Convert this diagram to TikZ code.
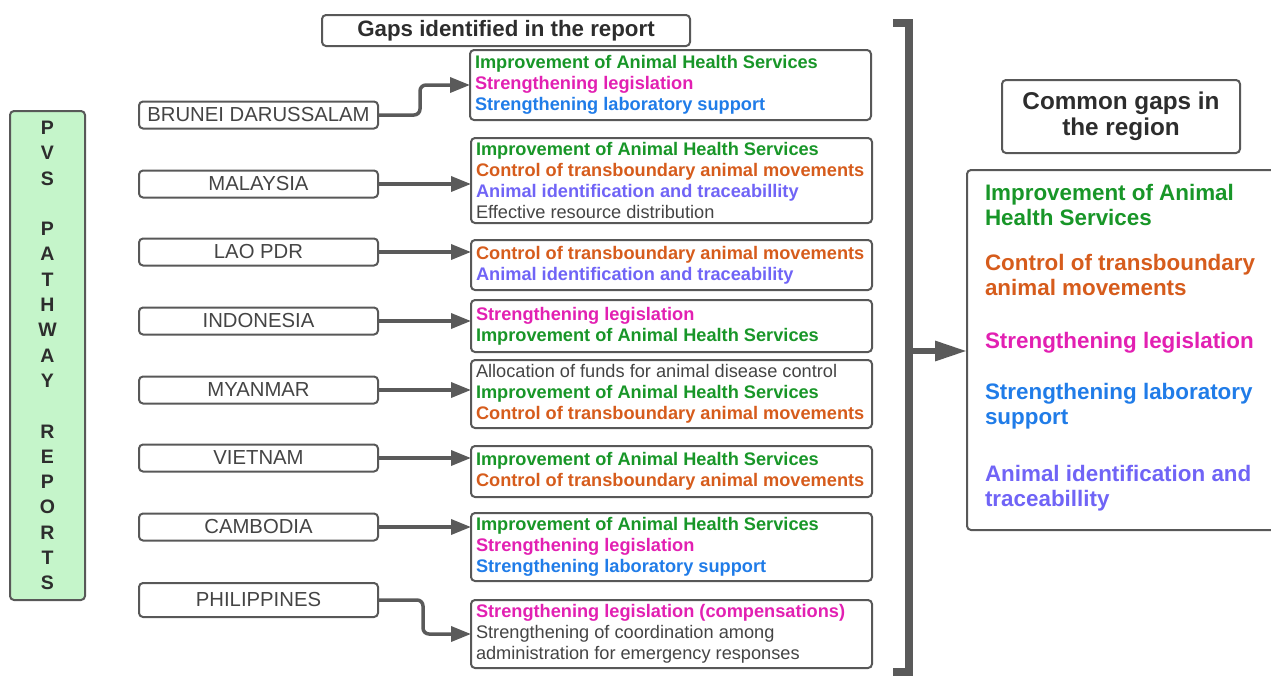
\documentclass[tikz,border=0pt]{standalone}
\usepackage{fontspec}
\setmainfont{Liberation Sans}
\usetikzlibrary{arrows.meta,calc}

\definecolor{cgreen}{RGB}{24,150,40}
\definecolor{corange}{RGB}{214,92,28}
\definecolor{cmagenta}{RGB}{226,32,178}
\definecolor{cblue}{RGB}{32,124,232}
\definecolor{cpurple}{RGB}{112,100,246}
\definecolor{ctext}{RGB}{68,68,68}
\definecolor{cdark}{RGB}{45,45,45}
\definecolor{cborder}{RGB}{88,88,88}
\definecolor{cline}{RGB}{90,90,90}
\definecolor{cpale}{RGB}{197,245,202}

% coloured gap entries
\newcommand\gapGreen[1]{\textcolor{cgreen}{\bfseries #1}}
\newcommand\gapOrange[1]{\textcolor{corange}{\bfseries #1}}
\newcommand\gapMagenta[1]{\textcolor{cmagenta}{\bfseries #1}}
\newcommand\gapBlue[1]{\textcolor{cblue}{\bfseries #1}}
\newcommand\gapPurple[1]{\textcolor{cpurple}{\bfseries #1}}
\newcommand\gapPlain[1]{\textcolor{ctext}{#1}}

\begin{document}
\begin{tikzpicture}[x=1pt,y=-1pt,
  every node/.style={inner sep=0pt, outer sep=0pt},
  roundbox/.style={draw=cborder, line width=2pt, rounded corners=4pt},
  country/.style={roundbox, minimum width=239pt, minimum height=27pt,
    text=ctext, font=\fontsize{20.3}{22}\selectfont},
  gapbox/.style={roundbox, minimum width=401pt, anchor=north west},
  gaptext/.style={anchor=west, align=left, font=\fontsize{18.2}{20.8}\selectfont},
  arr/.style={draw=cline, line width=3.5pt, rounded corners=6pt,
    -{Triangle[length=20pt,width=15pt]}},
  bigarr/.style={draw=cline, line width=6pt,
    -{Triangle[length=32pt,width=19pt]}}
]
\useasboundingbox (0,0) rectangle (1271,675);

% left title column
\node[roundbox, fill=cpale, minimum width=75pt, minimum height=489pt,
  align=center, text=cdark, font=\fontsize{19.5}{25.3}\selectfont\bfseries]
  (pvs) at (47.5,355.5)
  {P\\V\\S\\[25.3pt]P\\A\\T\\H\\W\\A\\Y\\[25.3pt]R\\E\\P\\O\\R\\T\\S};

% header
\node[roundbox, minimum width=368pt, minimum height=31pt, text=cdark,
  font=\fontsize{22.3}{24}\selectfont\bfseries] (title) at (506,30.5)
  {Gaps identified in the report};

% countries
\node[country] (bru) at (258.5,115) {BRUNEI DARUSSALAM};
\node[country] (mal) at (258.5,184) {MALAYSIA};
\node[country] (lao) at (258.5,252) {LAO PDR};
\node[country] (ind) at (258.5,321) {INDONESIA};
\node[country] (mya) at (258.5,390) {MYANMAR};
\node[country] (vie) at (258.5,458) {VIETNAM};
\node[country] (cam) at (258.5,527) {CAMBODIA};
\node[country, minimum height=34pt] (phi) at (258.5,600) {PHILIPPINES};

% gap boxes
\node[gapbox, minimum height=70pt] (gbru) at (470,50) {};
\node[gapbox, minimum height=85pt] (gmal) at (471,138) {};
\node[gapbox, minimum height=50pt] (glao) at (471,240) {};
\node[gapbox, minimum height=52pt] (gind) at (471,300) {};
\node[gapbox, minimum height=68pt] (gmya) at (471,360) {};
\node[gapbox, minimum height=51pt] (gvie) at (471,446) {};
\node[gapbox, minimum height=68pt] (gcam) at (471,513) {};
\node[gapbox, minimum height=68pt] (gphi) at (471,600) {};

\node[gaptext] (tbru) at ($(gbru.west)+(5,0)$)
  {\gapGreen{Improvement of Animal Health Services}\\
   \gapMagenta{Strengthening legislation}\\
   \gapBlue{Strengthening laboratory support}};
\node[gaptext] (tmal) at ($(gmal.west)+(5,0)$)
  {\gapGreen{Improvement of Animal Health Services}\\
   \gapOrange{Control of transboundary animal movements}\\
   \gapPurple{Animal identification and traceabillity}\\
   \gapPlain{Effective resource distribution}};
\node[gaptext] (tlao) at ($(glao.west)+(5,0)$)
  {\gapOrange{Control of transboundary animal movements}\\
   \gapPurple{Animal identification and traceability}};
\node[gaptext] (tind) at ($(gind.west)+(5,0)$)
  {\gapMagenta{Strengthening legislation}\\
   \gapGreen{Improvement of Animal Health Services}};
\node[gaptext] (tmya) at ($(gmya.west)+(5,0)$)
  {\gapPlain{Allocation of funds for animal disease control}\\
   \gapGreen{Improvement of Animal Health Services}\\
   \gapOrange{Control of transboundary animal movements}};
\node[gaptext] (tvie) at ($(gvie.west)+(5,0)$)
  {\gapGreen{Improvement of Animal Health Services}\\
   \gapOrange{Control of transboundary animal movements}};
\node[gaptext] (tcam) at ($(gcam.west)+(5,0)$)
  {\gapGreen{Improvement of Animal Health Services}\\
   \gapMagenta{Strengthening legislation}\\
   \gapBlue{Strengthening laboratory support}};
\node[gaptext] (tphi) at ($(gphi.west)+(5,0)$)
  {\gapMagenta{Strengthening legislation (compensations)}\\
   \gapPlain{Strengthening of coordination among}\\
   \gapPlain{administration for emergency responses}};

% connectors country -> gaps
\draw[arr] (bru.east) -- ++(42,0) |- (gbru.west);
\draw[arr] (mal.east) -- (mal.east -| gmal.west);
\draw[arr] (lao.east) -- (lao.east -| glao.west);
\draw[arr] (ind.east) -- (ind.east -| gind.west);
\draw[arr] (mya.east) -- (mya.east -| gmya.west);
\draw[arr] (vie.east) -- (vie.east -| gvie.west);
\draw[arr] (cam.east) -- (cam.east -| gcam.west);
\draw[arr] (phi.east) -- ++(45,0) |- (gphi.west);

% bracket gathering all gaps
\draw[cline, line width=7.5pt] (893,23) -- (909,23) -- (909,672) -- (893,672);
\coordinate (brk) at (909,351);

% common gaps
\node[roundbox, minimum width=238pt, minimum height=73pt, align=center,
  text=cdark, font=\fontsize{24.3}{26}\selectfont\bfseries] (common)
  at (1121,116.5) {Common gaps in\\the region};
\node[roundbox, anchor=north west, minimum width=330pt, minimum height=360pt]
  (clist) at (967,170) {};
\node[anchor=north west, align=left,
  font=\fontsize{22.4}{25}\selectfont] (clisttext) at (985,184)
  {\gapGreen{Improvement of Animal}\\
   \gapGreen{Health Services}\\[20pt]
   \gapOrange{Control of transboundary}\\
   \gapOrange{animal movements}\\[28pt]
   \gapMagenta{Strengthening legislation}\\[26pt]
   \gapBlue{Strengthening laboratory}\\
   \gapBlue{support}\\[32pt]
   \gapPurple{Animal identification and}\\
   \gapPurple{traceabillity}};

\draw[bigarr] (brk) -- (brk -| clist.west);
\end{tikzpicture}
\end{document}
